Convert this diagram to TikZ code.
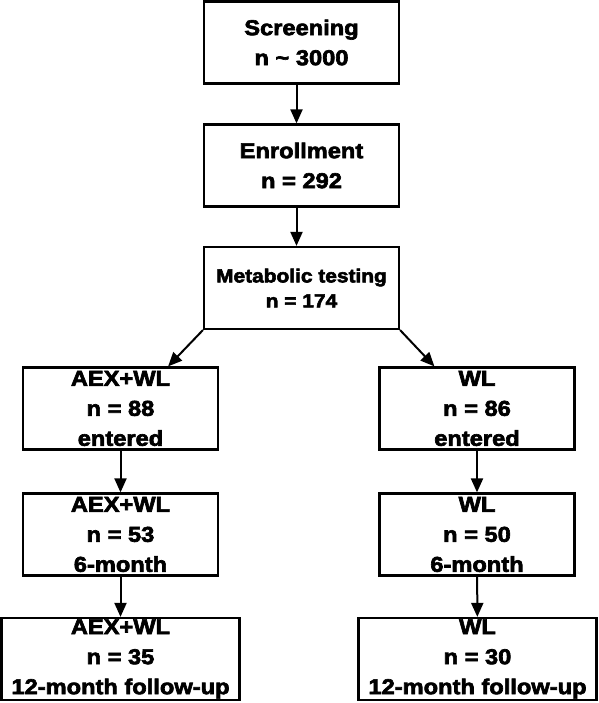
\documentclass[tikz,border=0pt]{standalone}
\usepackage{fontspec}
\setmainfont{Liberation Sans}[FakeStretch=1.1,FakeBold=3]
\usetikzlibrary{%
    arrows.meta,%
    calc,%
    positioning%
}

\begin{document}
\begin{tikzpicture}[x=1pt,y=1pt,
    stagebox/.style={rectangle,draw=black,line width=2.2pt,inner sep=0pt,
        minimum width=195pt,minimum height=82pt,align=center,
        font=\fontsize{21.5}{30}\selectfont\bfseries},
    widebox/.style={stagebox,minimum width=238pt},
    flow/.style={-{Triangle[length=14pt,width=12pt]},line width=2pt}
]
    % Fix the page to the size of the reference
    \useasboundingbox (0,0) rectangle (598,703);

    % Common trunk of the study
    \node[stagebox] (screen) at (301.5,660.5) {Screening\\n \char`\~{} 3000};
    \node[stagebox] (enroll) at (301.5,537.5) {Enrollment\\n = 292};
    \node[stagebox,font=\fontsize{19}{25}\selectfont\bfseries] (metab) at (301.5,415) {Metabolic testing\\n = 174};

    % Exercise plus weight loss arm
    \node[stagebox] (aexin) at (120.5,294.5) {AEX+WL\\n = 88\\entered};
    \node[stagebox] (aexsix) at (120.5,168.5) {AEX+WL\\n = 53\\6-month};
    \node[widebox] (aextwelve) at (120.5,44) {AEX+WL\\n = 35\\12-month follow-up};

    % Weight loss arm
    \node[stagebox] (wlin) at (477,294.5) {WL\\n = 86\\entered};
    \node[stagebox] (wlsix) at (477,168.5) {WL\\n = 50\\6-month};
    \node[widebox] (wltwelve) at (477.5,44) {WL\\n = 30\\12-month follow-up};

    % Connect the stages
    \draw[flow] ([xshift=-5pt]screen.south) -- ([xshift=-5pt]enroll.north);
    \draw[flow] ([xshift=-5pt]enroll.south) -- ([xshift=-5pt]metab.north);
    \draw[flow] (metab.south west) -- ([xshift=-51pt]aexin.north east);
    \draw[flow] (metab.south east) -- ([xshift=56pt]wlin.north west);
    \draw[flow] (aexin) -- (aexsix);
    \draw[flow] (aexsix) -- (aextwelve);
    \draw[flow] (wlin) -- (wlsix);
    \draw[flow] (wlsix) -- (wltwelve);
\end{tikzpicture}
\end{document}
